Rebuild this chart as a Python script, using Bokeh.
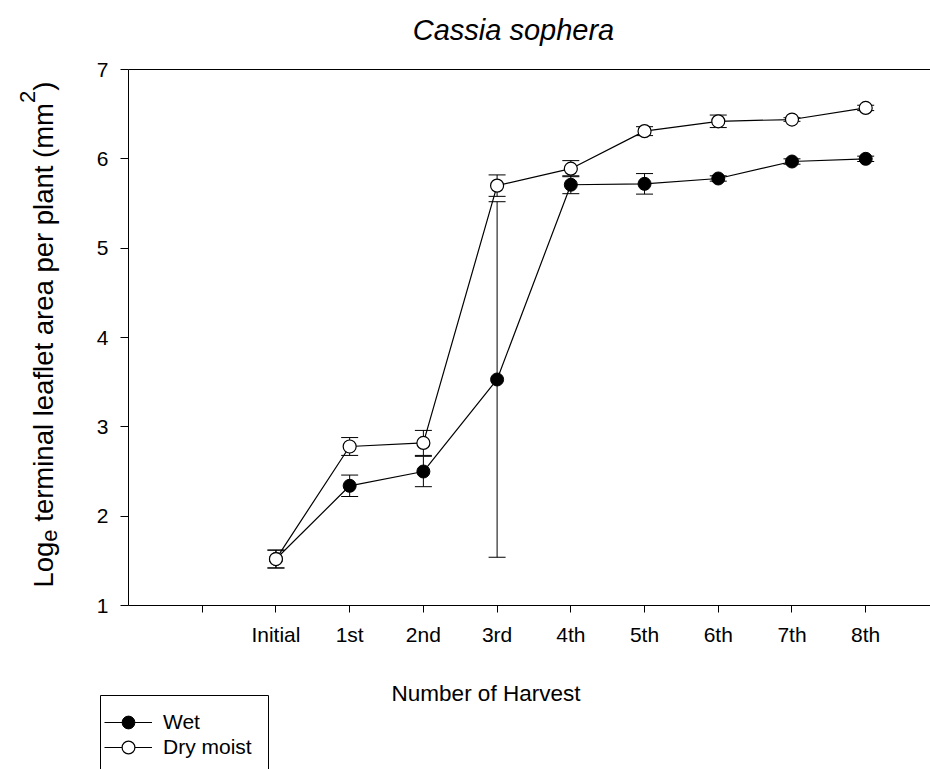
import math
from bokeh.plotting import figure
from bokeh.models import (ColumnDataSource, Range1d, FixedTicker, LinearAxis, Whisker,
                          TeeHead, Label, Legend, LegendItem, BoxAnnotation)
from bokeh.embed import file_html
from bokeh.resources import INLINE

# ---------------- data ----------------
harvest = ["Initial", "1st", "2nd", "3rd", "4th", "5th", "6th", "7th", "8th"]
wet_mean = [1.52, 2.34, 2.50, 3.53, 5.71, 5.72, 5.78, 5.97, 6.00]
wet_err = [0.10, 0.12, 0.17, 1.99, 0.10, 0.115, 0.03, 0.03, 0.03]
dry_mean = [1.52, 2.78, 2.82, 5.70, 5.89, 6.31, 6.42, 6.44, 6.57]
dry_err = [0.10, 0.10, 0.14, 0.12, 0.09, 0.05, 0.07, 0.02, 0.03]
y_ticks = [1, 2, 3, 4, 5, 6, 7]
series_names = ["Wet", "Dry moist"]

FONT = "Liberation Sans"
pos = list(range(len(harvest)))

def src(mean, err):
    return ColumnDataSource(dict(
        x=pos, y=mean,
        lower=[m - e for m, e in zip(mean, err)],
        upper=[m + e for m, e in zip(mean, err)],
    ))

wet_src = src(wet_mean, wet_err)
dry_src = src(dry_mean, dry_err)

# ---------------- layout geometry (pixels) ----------------
W, H = 930, 769
X0, XPX = 128.0, 73.72      # pixel of x=-2 (left axis), pixels per category
Y1, YPX = 605.0, 89.333     # pixel of y=1 (bottom axis), pixels per unit
XLO = -2.0
def dx(px):  # pixel -> data x
    return XLO + (px - X0) / XPX
def dy(py):  # pixel -> data y
    return 1.0 + (Y1 - py) / YPX

# the frame fills the whole canvas; axes are pinned with fixed_location
p = figure(width=W, height=H, x_range=Range1d(dx(0), dx(W)), y_range=Range1d(dy(H), dy(0)),
           output_backend="svg", toolbar_location=None,
           min_border_left=0, min_border_right=0, min_border_top=0, min_border_bottom=0)
p.grid.visible = False
p.outline_line_color = None
p.background_fill_color = "white"
p.border_fill_color = "white"

xa = p.xaxis[0]
xa.fixed_location = 1
xa.bounds = (XLO, dx(W))
xa.ticker = FixedTicker(ticks=[-1] + pos)
xa.major_label_overrides = {-1: ""} | {i: h for i, h in zip(pos, harvest)}
xa.minor_tick_line_color = None
xa.major_tick_in = 0
xa.major_tick_out = 7
xa.major_label_standoff = 10
xa.major_label_text_font = FONT
xa.major_label_text_font_size = "21px"
xa.major_label_text_color = "black"
xa.axis_line_color = "black"
xa.major_tick_line_color = "black"

ya = p.yaxis[0]
ya.fixed_location = XLO
ya.bounds = (1, 7)
ya.ticker = FixedTicker(ticks=y_ticks)
ya.minor_tick_line_color = None
ya.major_tick_in = 0
ya.major_tick_out = 8
ya.major_label_standoff = 12
ya.major_label_text_font = FONT
ya.major_label_text_font_size = "21px"
ya.major_label_text_color = "black"
ya.axis_line_color = "black"
ya.major_tick_line_color = "black"

top = LinearAxis(fixed_location=7, bounds=(XLO, dx(W)), ticker=FixedTicker(ticks=[]),
                 major_label_text_font_size="0px", minor_tick_line_color=None,
                 major_tick_line_color=None, axis_line_color="black")
p.add_layout(top, "above")

# error bars
for s in (wet_src, dry_src):
    p.add_layout(Whisker(source=s, base="x", lower="lower", upper="upper", dimension="height",
                         line_color="black", line_width=1,
                         upper_head=TeeHead(size=17, line_color="black", line_width=1),
                         lower_head=TeeHead(size=17, line_color="black", line_width=1)))

wet_line = p.line("x", "y", source=wet_src, line_color="black", line_width=1.2)
dry_line = p.line("x", "y", source=dry_src, line_color="black", line_width=1.2)
wet_pts = p.scatter("x", "y", source=wet_src, size=13, fill_color="black",
                    line_color="black", line_width=1)
dry_pts = p.scatter("x", "y", source=dry_src, size=13, fill_color="white",
                    line_color="black", line_width=1.2)

# legend: one row per entry + a frame whose bottom runs off the page
for name, rends, bottom_py in ((series_names[0], [wet_line, wet_pts], 738),
                               (series_names[1], [dry_line, dry_pts], 763)):
    lg = Legend(items=[LegendItem(label=name, renderers=rends)],
                location=(104, H - bottom_py), padding=0, spacing=0, margin=0,
                glyph_width=48, glyph_height=32, label_height=32, label_standoff=11,
                label_text_font=FONT, label_text_font_size="21px", label_text_color="black",
                border_line_color=None, background_fill_alpha=0)
    p.add_layout(lg, "center")
p.add_layout(BoxAnnotation(left=dx(100), right=dx(268), top=dy(695), bottom=dy(790),
                           fill_alpha=0, line_color="black", line_width=1, line_alpha=1))

def lab(text, px, py, **kw):
    p.add_layout(Label(x=dx(px), y=dy(py), text=text, text_font=FONT,
                       text_color="black", **kw))

# title and x-axis title
lab("Cassia sophera", 513, 29, text_align="center", text_baseline="middle",
    text_font_size="29px", text_font_style="italic")
lab("Number of Harvest", 485.5, 693, text_align="center", text_baseline="middle",
    text_font_size="22.5px")

# y-axis title with subscript / superscript, built from pieces
AW = {" ": 278, "(": 333, ")": 333, "2": 556, "L": 556, "o": 556, "g": 556, "e": 556,
      "t": 278, "r": 333, "m": 833, "i": 222, "n": 556, "a": 556, "l": 222, "f": 278,
      "p": 556}
def tw(s, size):
    return sum(AW.get(c, 556) for c in s) * size / 1000.0

main_sz, small_sz = 27.5, 22
base_x = 43
# (text, font size, baseline shift in px, gap before in px)
pieces = [("Log", main_sz, 0, 0), ("e", small_sz, 6, 0),
          ("terminal leaflet area per plant (mm", main_sz, 0, tw(" ", main_sz)),
          ("2", small_sz, -16, 0), (")", main_sz, 0, 0)]
ycur = 587
for text, sz, off, gap in pieces:
    ycur -= gap
    lab(text, base_x + off, ycur, angle=math.pi / 2, text_align="left",
        text_baseline="alphabetic", text_font_size=f"{sz}px")
    ycur -= tw(text, sz)

open("out.html", "w").write(file_html(p, INLINE))
